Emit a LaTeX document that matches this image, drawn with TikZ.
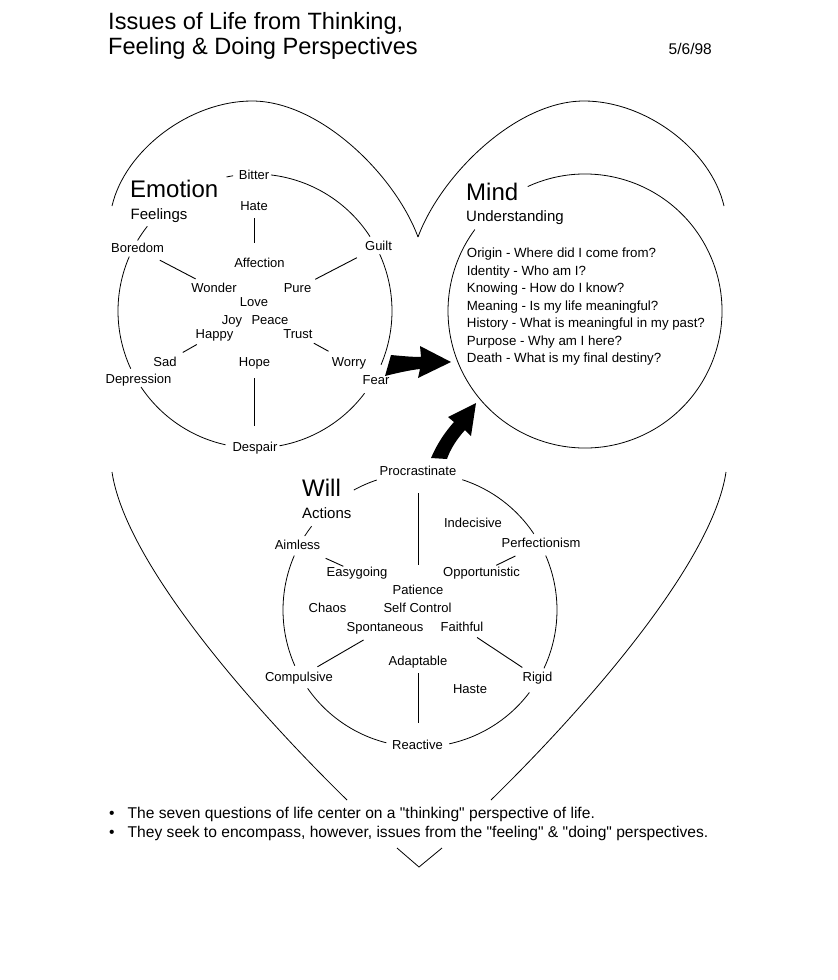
\documentclass[tikz,border=0pt]{standalone}
\usepackage{fontspec}
\setmainfont{Liberation Sans}[Ligatures=TeXOff]
\newcommand\ringarc[3]{\draw[thin] ([shift={(#2:137)}]#1) arc[start angle=#2,end angle=#3,radius=137];}
\begin{document}
\begin{tikzpicture}[x=1pt,y=1pt,
  thin/.style={line width=0.8pt},
  spoke/.style={line width=0.9pt},
  lbl/.style={font=\fontsize{13}{15}\selectfont, inner sep=0pt, text height=9.5pt, text depth=2.5pt, anchor=base},
  qline/.style={font=\fontsize{13.3}{15}\selectfont, inner sep=0pt, anchor=base west},
  headtxt/.style={font=\fontsize{24}{28}\selectfont, inner sep=0pt, anchor=base west},
  subhead/.style={font=\fontsize{15}{18}\selectfont, inner sep=0pt, anchor=base west},
  ttl/.style={font=\fontsize{23.6}{28}\selectfont, inner sep=0pt, anchor=base west},
  datestyle/.style={font=\fontsize{15.5}{18}\selectfont, inner sep=0pt, anchor=base east},
  bul/.style={font=\fontsize{15.6}{18}\selectfont, inner sep=0pt, anchor=base west},
  blockarrow/.style={fill=black},
]
\fill[white] (0,0) rectangle (838,-980);
\useasboundingbox (0,0) rectangle (838,-980);

% ---------- title ----------
\node[ttl] (t1) at (108,-29) {Issues of Life from Thinking,};
\node[ttl] (t2) at (108,-54) {Feeling \& Doing Perspectives};
\node[datestyle] (date) at (712,-54) {5/6/98};

% ---------- heart ----------
\draw[thin] (112,-206) .. controls (125,-150) and (190,-101) .. (252,-101)
                       .. controls (320,-101) and (395,-175) .. (418,-237);
\draw[thin] (418,-237) .. controls (441,-175) and (516,-101) .. (584,-101)
                       .. controls (646,-101) and (711,-150) .. (724,-206);
\draw[thin] (112,-472) .. controls (125,-560) and (245,-700) .. (347,-800);
\draw[thin] (726,-472) .. controls (713,-560) and (593,-700) .. (491,-800);
\draw[thin] (397,-848) -- (419,-867) -- (442,-848);

% ---------- circle centres ----------
\coordinate (C1) at (255,-311);
\coordinate (C2) at (585,-311);
\coordinate (C3) at (420,-610);

% ---------- Emotion ----------
\node[headtxt] (Emotion) at (130,-197) {Emotion};
\node[subhead] (Feelings) at (130.5,-219.5) {Feelings};
\node[lbl] (Bitter) at (254,-179) {Bitter};
\node[lbl] (Hate) at (254,-210) {Hate};
\node[lbl] (Boredom) at (137.5,-252) {Boredom};
\node[lbl] (Guilt) at (378.5,-250) {Guilt};
\node[lbl] (Affection) at (259.5,-267) {Affection};
\node[lbl] (Wonder) at (214,-292) {Wonder};
\node[lbl] (Pure) at (297.5,-292) {Pure};
\node[lbl] (Love) at (254,-306) {Love};
\node[lbl] (Joy) at (232,-324) {Joy};
\node[lbl] (Peace) at (270,-324) {Peace};
\node[lbl] (Happy) at (214.5,-338) {Happy};
\node[lbl] (Trust) at (298,-338) {Trust};
\node[lbl] (Sad) at (165,-366) {Sad};
\node[lbl] (Worry) at (349,-366) {Worry};
\node[lbl] (Hope) at (254.5,-366) {Hope};
\node[lbl] (Depression) at (138.5,-383) {Depression};
\node[lbl] (Fear) at (376,-384) {Fear};
\node[lbl] (Despair) at (255,-451) {Despair};

\ringarc{C1}{99.2}{102}
\ringarc{C1}{83.3}{32.9}
\ringarc{C1}{24.5}{-23.1}
\ringarc{C1}{-36.9}{-79.7}
\ringarc{C1}{-102.4}{-146.3}
\ringarc{C1}{-155.1}{-203.4}
\ringarc{C1}{-211}{-218.2}

\draw[spoke, shorten <=5.5pt, shorten >=14.5pt] (Hate.south) -- (Hate.south |- Affection.north);
\draw[spoke, shorten <=11.8pt, shorten >=7.4pt] (Boredom) -- (Wonder);
\draw[spoke, shorten <=10.9pt, shorten >=6.5pt] (Guilt) -- (Pure);
\draw[spoke, shorten <=7.7pt, shorten >=7.8pt] (Happy) -- (Sad);
\draw[spoke, shorten <=5.2pt, shorten >=10.5pt] (Trust) -- (Worry);
\draw[spoke, shorten <=9.5pt, shorten >=15.5pt] (Hope.south) -- (Hope.south |- Despair.north);

% ---------- Mind ----------
\node[headtxt] (Mind) at (466,-200) {Mind};
\node[subhead] (Understanding) at (466,-221) {Understanding};
\ringarc{C2}{114.7}{-216.5}
\node[qline] (q1) at (466.7,-257.5) {Origin - Where did I come from?};
\node[qline] (q2) at (466.7,-275) {Identity - Who am I?};
\node[qline] (q3) at (466.7,-292.5) {Knowing - How do I know?};
\node[qline] (q4) at (466.7,-310) {Meaning - Is my life meaningful?};
\node[qline] (q5) at (466.7,-327.5) {History - What is meaningful in my past?};
\node[qline] (q6) at (466.7,-345) {Purpose - Why am I here?};
\node[qline] (q7) at (466.7,-362.5) {Death - What is my final destiny?};

% ---------- Will ----------
\node[headtxt] (Will) at (302,-496) {Will};
\node[subhead] (Actions) at (302,-518) {Actions};
\node[lbl] (Procrastinate) at (418,-475) {Procrastinate};
\node[lbl] (Indecisive) at (473,-527) {Indecisive};
\node[lbl] (Aimless) at (297.5,-549) {Aimless};
\node[lbl] (Perfectionism) at (541,-547) {Perfectionism};
\node[lbl] (Easygoing) at (357,-576) {Easygoing};
\node[lbl] (Opportunistic) at (481.5,-576) {Opportunistic};
\node[lbl] (Patience) at (418,-594) {Patience};
\node[lbl] (Chaos) at (327.5,-612) {Chaos};
\node[lbl] (SelfControl) at (417.5,-612) {Self Control};
\node[lbl] (Spontaneous) at (385,-631) {Spontaneous};
\node[lbl] (Faithful) at (462,-631) {Faithful};
\node[lbl] (Adaptable) at (418,-665) {Adaptable};
\node[lbl] (Compulsive) at (299,-681) {Compulsive};
\node[lbl] (Rigid) at (537.5,-681) {Rigid};
\node[lbl] (Haste) at (470,-693) {Haste};
\node[lbl] (Reactive) at (417.5,-749) {Reactive};

\ringarc{C3}{108.4}{118.9}
\ringarc{C3}{72}{33.8}
\ringarc{C3}{23.4}{-25.2}
\ringarc{C3}{-37}{-77.7}
\ringarc{C3}{-104.2}{-145.1}
\ringarc{C3}{-156}{-203.4}
\ringarc{C3}{-212.7}{-217.7}

\draw[spoke, shorten <=15.5pt, shorten >=19.5pt] (Procrastinate.south) -- (Procrastinate.south |- Patience.north);
\draw[spoke, shorten <=15.9pt] (Aimless) -- (Easygoing);
\draw[spoke, shorten <=14.3pt, shorten >=2.2pt] (Perfectionism) -- (Opportunistic);
\draw[spoke, shorten <=12.5pt, shorten >=9pt] (Spontaneous) -- (Compulsive);
\draw[spoke, shorten <=6.8pt, shorten >=7pt] (Faithful) -- (Rigid);
\draw[spoke, shorten <=5.5pt, shorten >=16.5pt] (Adaptable.south) -- (Adaptable.south |- Reactive.north);

% ---------- block arrows ----------
\fill[blockarrow] (391,-355) .. controls (402,-356) and (412,-357) .. (421,-357) -- (420,-346) -- (451,-362) -- (418,-378) -- (420,-369) .. controls (410,-370) and (397,-373) .. (385,-376) -- cycle;
\fill[blockarrow] (431,-458) .. controls (437,-444) and (445,-432) .. (454,-422) -- (448,-417) -- (476,-403) -- (471,-436) -- (465,-430) .. controls (456,-440) and (450,-450) .. (447,-459) -- cycle;

% ---------- bullets ----------
\node[bul] (bu1) at (109,-818) {\textbullet};
\node[bul] (b1) at (127.5,-818) {The seven questions of life center on a "thinking" perspective of life.};
\node[bul] (bu2) at (109,-837) {\textbullet};
\node[bul] (b2) at (127.5,-837) {They seek to encompass, however, issues from the "feeling" \& "doing" perspectives.};
\end{tikzpicture}
\end{document}
